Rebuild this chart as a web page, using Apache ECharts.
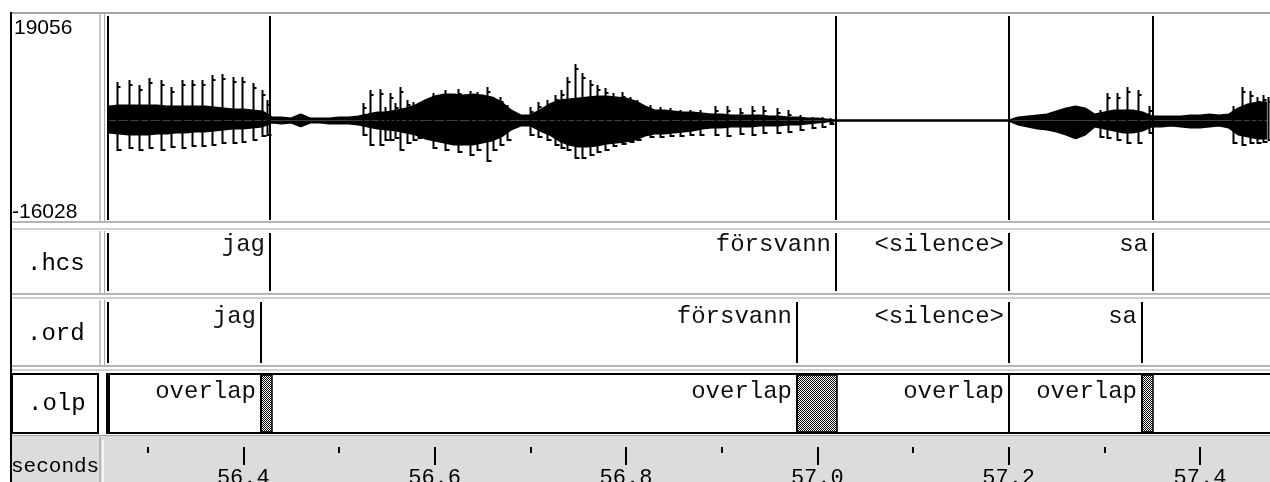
<!DOCTYPE html>
<html><head><meta charset="utf-8">
<script src="https://cdn.jsdelivr.net/npm/echarts@6/dist/echarts.min.js"></script>
<style>html,body{margin:0;padding:0;background:#fff}#c{width:1270px;height:482px}</style>
</head><body><div id="c"></div><script>
// ---- data ----
const timeMin = 56.2565, timeMax = 57.4732;
const ampMax = 19056, ampMin = -16028;
const majorTicks = [56.4, 56.6, 56.8, 57.0, 57.2, 57.4];
const minorTicks = [56.3, 56.5, 56.7, 56.9, 57.1, 57.3];
const segStart = 56.2586;

const hcsLabels = ['jag', 'försvann', '<silence>', 'sa'];
const hcsEnds = [56.428, 57.0195, 57.2004, 57.3505];
const ordLabels = ['jag', 'försvann', '<silence>', 'sa'];
const ordEnds = [56.419, 56.9793, 57.2004, 57.339];
const olpLabels = ['overlap', 'overlap', 'overlap', 'overlap'];
const olpEnds = [56.419, 56.9793, 57.2004, 57.339];
const olpHatchStart = [56.419, 56.9793, 57.339];
const olpHatchEnd = [56.4297, 57.0205, 57.3512];

// waveform envelope (dense body)
const envTime = [56.259,56.27,56.28,56.29,56.30,56.31,56.32,56.33,56.34,56.35,56.36,56.37,56.38,56.39,56.40,56.41,56.42,
 56.43,56.44,56.45,56.46,56.47,56.48,56.49,56.50,56.51,56.52,
 56.53,56.54,56.55,56.56,56.57,56.58,56.59,56.60,56.61,56.62,
 56.63,56.64,56.65,56.66,56.67,56.68,56.69,56.70,56.71,56.72,
 56.73,56.74,56.75,56.76,56.77,56.78,56.79,56.80,56.81,56.82,
 56.83,56.84,56.85,56.86,56.87,56.88,56.89,56.90,56.91,56.92,
 56.93,56.94,56.95,56.96,56.97,56.98,56.99,57.00,57.01,57.02,
 57.20,57.21,57.22,57.23,57.24,57.25,57.26,57.27,57.28,57.29,
 57.30,57.31,57.32,57.33,57.34,57.35,57.36,57.37,57.38,57.39,
 57.40,57.41,57.42,57.43,57.44,57.45,57.46,57.47];
const envUpper = [2510,2690,2690,2690,2690,2690,2510,2510,2510,2510,2510,2330,2150,1970,1970,1790,1610,
 540,540,360,1070,360,360,360,540,540,720,
 1070,1430,1430,1790,2150,2690,3580,4300,4650,4650,
 4480,4650,4480,4120,3220,1790,900,900,1790,2860,
 3580,3760,3940,4120,4300,4300,4120,3940,3400,2510,
 1790,1790,1610,1430,1430,1250,1070,1070,900,900,
 900,900,720,720,540,540,360,360,180,0,
 0,540,720,900,1070,1610,2150,2510,2150,1070,
 1430,1790,1790,1790,1430,720,720,720,720,900,
 900,1070,900,1070,2150,2860,3220,3220];
const envLower = [-2150,-2330,-2510,-2510,-2510,-2330,-2330,-2150,-2150,-1970,-1970,-1790,-1610,-1430,-1430,-1250,-1070,
 -360,-540,-360,-1070,-360,-360,-540,-540,-540,-720,
 -1070,-1430,-1610,-1790,-2150,-2510,-3220,-3580,-3940,-4300,
 -4300,-4300,-3940,-3580,-2860,-1610,-900,-900,-1790,-2510,
 -3580,-4300,-4650,-4650,-4480,-4120,-3940,-3760,-3400,-2690,
 -2330,-2330,-2150,-1970,-1790,-1430,-1250,-1250,-1070,-1070,
 -1070,-900,-900,-900,-720,-720,-540,-360,-180,0,
 0,-720,-1070,-1430,-1610,-1970,-2510,-3220,-2510,-1070,
 -1430,-1790,-2150,-2150,-1790,-1070,-1070,-900,-1070,-1250,
 -1250,-1070,-900,-1250,-2510,-2860,-3220,-3220];

// glottal pulses (spikes)
const pulseTime = [56.2680,56.2805,56.2910,56.3014,56.3140,56.3244,56.3359,56.3464,56.3568,56.3673,56.3777,56.3892,56.3986,56.4101,56.4195,56.4248,
 56.5251,56.5324,56.5429,56.5481,56.5533,56.5586,56.5638,56.5711,56.5774,56.5826,56.5983,56.6108,56.6244,56.6370,56.6443,56.6547,56.6610,56.6683,56.6757,
 56.6997,56.7081,56.7175,56.7258,56.7321,56.7384,56.7468,56.7541,56.7624,56.7697,56.7781,56.7864,56.7958,56.8042,56.8115,56.8251,56.8356,56.8460,56.8565,56.8669,56.8774,56.8931,56.9056,56.9192,56.9317,56.9432,56.9579,56.9694,56.9819,56.9944,57.0049,57.0133,
 57.2955,57.3028,57.3133,57.3237,57.3352,57.3467,
 57.4345,57.4439,57.4523,57.4596,57.4659,57.4711];
const pulseTop = [6890,7250,6360,7610,7250,6000,7250,7250,7250,8150,8320,7790,7790,6710,5460,3670,
 3130,5460,5640,2420,4920,3130,6000,3670,3310,1880,4920,5460,5640,5280,5100,6000,4210,4210,2780,
 2420,3310,3670,4570,5460,7790,10110,8500,7250,6360,5820,4920,5100,4210,3670,2780,2420,2240,1880,1880,1880,2600,2600,2240,2600,2600,2240,1880,990,630,630,450,
 1880,4920,4920,6000,5460,2600,
 2600,6000,5280,4210,4570,4210];
const pulseBottom = [-5280,-4920,-5280,-4920,-5280,-4740,-4920,-4570,-4570,-4390,-4030,-4030,-3850,-3490,-2780,-2600,
 -2600,-4390,-4390,-3490,-3490,-3130,-5280,-4030,-3490,-3130,-4920,-5280,-5640,-6180,-5280,-7250,-5280,-4390,-3490,
 -2600,-2950,-3490,-4390,-4920,-5280,-6710,-6710,-6180,-5640,-5280,-4570,-4210,-3850,-3490,-2950,-2950,-2780,-2780,-2600,-2600,-2600,-2780,-2420,-2600,-2240,-2240,-2060,-1700,-1340,-1160,-630,
 -2950,-3130,-3490,-4030,-4030,-2240,
 -4030,-4390,-4030,-4030,-3850,-3490];

// ---- rendering ----
const MONO = '"Liberation Mono", "DejaVu Sans Mono", monospace';
const SANS = '"Liberation Sans", Arial, sans-serif';

const pc = document.createElement('canvas'); pc.width = 2; pc.height = 2;
const pctx = pc.getContext('2d');
pctx.fillStyle = '#fff'; pctx.fillRect(0, 0, 2, 2);
pctx.fillStyle = '#000'; pctx.fillRect(0, 0, 1, 1); pctx.fillRect(1, 1, 1, 1);
const hatch = { image: pc, repeat: 'repeat' };

const chart = echarts.init(document.getElementById('c'), null, { renderer: 'canvas' });

const hiddenX = g => ({ type: 'value', gridIndex: g, min: timeMin, max: timeMax, show: false, axisLine: { onZero: false } });
const hiddenY = (g, mn, mx) => ({ type: 'value', gridIndex: g, min: mn, max: mx, show: false, axisLine: { onZero: false } });

function tierSeries(axisIdx, ends, labels, textOff) {
  const data = [[segStart, -1]].concat(ends.map((t, i) => [t, i]));
  return {
    type: 'custom', xAxisIndex: axisIdx, yAxisIndex: axisIdx, data: data, silent: true,
    encode: { x: 0, y: 1 },
    renderItem: function (params, api) {
      const t = api.value(0), i = api.value(1);
      const cs = params.coordSys;
      const x = Math.round(api.coord([t, 0])[0]);
      const ch = [{ type: 'line', shape: { x1: x, y1: cs.y + 2, x2: x, y2: cs.y + cs.height - 2 }, style: { stroke: '#000', lineWidth: 2 } }];
      if (i >= 0) ch.push({ type: 'text', x: x - 5, y: cs.y + textOff,
        style: { text: labels[i], align: 'right', verticalAlign: 'middle', font: '24px ' + MONO, fill: '#111' } });
      return { type: 'group', children: ch };
    }
  };
}

const gr = (x, y, w, h, fill) => ({ type: 'rect', silent: true, z: -10, shape: { x, y, width: w, height: h }, style: { fill } });
const txt = (x, y, s, font, align) => ({ type: 'text', silent: true, x, y, style: { text: s, font, fill: '#000', align: align || 'left', verticalAlign: 'middle' } });

const graphic = [
  gr(12, 436, 1258, 46, '#dcdcdc'),
  gr(10, 12, 2, 470, '#000'),
  gr(12, 12, 1258, 2, '#a4a4a4'),
  // column separators
  gr(99, 14, 2, 208, '#c8c8c8'), gr(104, 14, 1, 208, '#a8a8a8'),
  gr(99, 231, 2, 62, '#c8c8c8'), gr(104, 231, 1, 62, '#a8a8a8'),
  gr(99, 300, 2, 65, '#c8c8c8'), gr(104, 300, 1, 65, '#a8a8a8'),
  gr(99, 437, 2, 45, '#b8b8b8'), gr(102, 440, 2, 42, '#f4f4f4'),
  // panel separators
  gr(12, 221, 1258, 2, '#b4b4b4'), gr(12, 228, 1258, 2, '#d0d0d0'),
  gr(12, 293, 1258, 2, '#b4b4b4'), gr(12, 297, 1258, 2, '#d0d0d0'),
  gr(12, 365, 1258, 2, '#b4b4b4'), gr(12, 369, 1258, 2, '#d0d0d0'),
  gr(12, 435, 1258, 1, '#a0a0a0'),
  // olp boxes
  { type: 'rect', silent: true, shape: { x: 12, y: 374, width: 86, height: 59 }, style: { fill: 'none', stroke: '#000', lineWidth: 2 } },
  gr(106, 373, 4, 61, '#000'), gr(106, 373, 1164, 2, '#000'), gr(106, 432, 1164, 2, '#000'),
  // texts
  txt(14, 28, '19056', '21px ' + SANS),
  txt(12, 212, '-16028', '21px ' + SANS),
  txt(27, 264, '.hcs', '24px ' + MONO),
  txt(27, 334, '.ord', '24px ' + MONO),
  txt(28, 404, '.olp', '24px ' + MONO),
  txt(11, 466, 'seconds', '21px ' + MONO)
];

const option = {
  animation: false,
  backgroundColor: '#fff',
  graphic: graphic,
  grid: [
    { left: 106, right: 0, top: 14, height: 196 },
    { left: 106, right: 0, top: 231, height: 62 },
    { left: 106, right: 0, top: 300, height: 65 },
    { left: 106, right: 0, top: 373, height: 61 },
    { left: 106, right: 0, top: 447, height: 35 }
  ],
  xAxis: [hiddenX(0), hiddenX(1), hiddenX(2), hiddenX(3),
    { type: 'value', gridIndex: 4, min: timeMin, max: timeMax, position: 'top', z: 5,
      axisLine: { show: false, onZero: false }, splitLine: { show: false },
      axisTick: { show: true, inside: true, length: 18, customValues: majorTicks, lineStyle: { color: '#000', width: 2 } },
      axisLabel: { show: true, inside: true, margin: 20, customValues: majorTicks, formatter: v => v.toFixed(1),
        fontFamily: MONO, fontSize: 22, color: '#000' } },
    { type: 'value', gridIndex: 4, min: timeMin, max: timeMax, position: 'top', z: 5,
      axisLine: { show: false, onZero: false }, splitLine: { show: false }, axisLabel: { show: false },
      axisTick: { show: true, inside: true, length: 6, customValues: minorTicks, lineStyle: { color: '#000', width: 2 } } }
  ],
  yAxis: [hiddenY(0, ampMin, ampMax), hiddenY(1, 0, 1), hiddenY(2, 0, 1), hiddenY(3, 0, 1), hiddenY(4, 0, 1)],
  series: [
    { type: 'line', xAxisIndex: 0, yAxisIndex: 0, symbol: 'none', silent: true,
      data: envTime.map((t, i) => [t, envUpper[i]]),
      lineStyle: { color: '#000', width: 2 }, areaStyle: { color: '#000', opacity: 1 } },
    { type: 'line', xAxisIndex: 0, yAxisIndex: 0, symbol: 'none', silent: true,
      data: envTime.map((t, i) => [t, envLower[i]]),
      lineStyle: { color: '#000', width: 2 }, areaStyle: { color: '#000', opacity: 1 } },
    { type: 'custom', xAxisIndex: 0, yAxisIndex: 0, silent: true,
      data: pulseTime.map((t, i) => [t, pulseTop[i], pulseBottom[i]]),
      encode: { x: 0, y: [1, 2] },
      renderItem: function (params, api) {
        const a = api.coord([api.value(0), api.value(1)]);
        const b = api.coord([api.value(0), api.value(2)]);
        const x = Math.round(a[0]) + 0.5;
        return { type: 'polyline',
          shape: { points: [[x + 3, a[1] + 5], [x, a[1] + 5], [x, a[1]], [x, b[1]], [x + 4, b[1]]] },
          style: { stroke: '#000', lineWidth: 2, fill: null } };
      } },
    { type: 'custom', xAxisIndex: 0, yAxisIndex: 0, silent: true,
      data: [[segStart, 0]].concat(hcsEnds.map(t => [t, 0])),
      encode: { x: 0, y: 1 },
      renderItem: function (params, api) {
        const cs = params.coordSys;
        const x = Math.round(api.coord([api.value(0), 0])[0]);
        return { type: 'line', shape: { x1: x, y1: cs.y + 2, x2: x, y2: cs.y + cs.height + 10 }, style: { stroke: '#000', lineWidth: 2 } };
      } },
    tierSeries(1, hcsEnds, hcsLabels, 14),
    tierSeries(2, ordEnds, ordLabels, 17),
    { type: 'custom', xAxisIndex: 3, yAxisIndex: 3, silent: true,
      data: olpHatchStart.map((t, i) => [t, olpHatchEnd[i]]),
      encode: { x: [0, 1] },
      renderItem: function (params, api) {
        const cs = params.coordSys;
        const x1 = Math.round(api.coord([api.value(0), 0])[0]);
        const x2 = Math.round(api.coord([api.value(1), 0])[0]);
        return { type: 'rect', shape: { x: x1, y: cs.y + 2, width: x2 - x1, height: cs.height - 4 },
          style: { fill: hatch, stroke: '#000', lineWidth: 1.5 } };
      } },
    { type: 'custom', xAxisIndex: 3, yAxisIndex: 3, silent: true,
      data: olpEnds.map((t, i) => [t, i]),
      encode: { x: 0, y: 1 },
      renderItem: function (params, api) {
        const cs = params.coordSys;
        const i = api.value(1);
        const x = Math.round(api.coord([api.value(0), 0])[0]);
        return { type: 'group', children: [
          { type: 'line', shape: { x1: x, y1: cs.y + 2, x2: x, y2: cs.y + cs.height - 2 }, style: { stroke: '#000', lineWidth: 2 } },
          { type: 'text', x: x - 5, y: cs.y + 19, style: { text: olpLabels[i], align: 'right', verticalAlign: 'middle', font: '24px ' + MONO, fill: '#111' } }
        ] };
      } }
  ]
};
chart.setOption(option);
</script></body></html>
